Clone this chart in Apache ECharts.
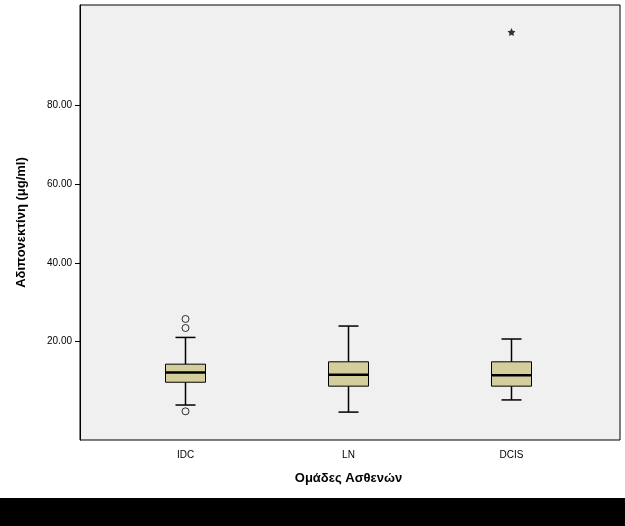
<!DOCTYPE html>
<html><head><meta charset="utf-8">
<script src="https://cdn.jsdelivr.net/npm/echarts@6/dist/echarts.min.js"></script>
<style>html,body{margin:0;padding:0;background:#fff}#c{width:625px;height:526px}</style>
</head><body><div id="c"></div>
<script>
const categories = ['IDC', 'LN', 'DCIS'];
// [whiskerLow, Q1, median, Q3, whiskerHigh]
const boxValues = [
  [3.8, 9.6, 12.1, 14.2, 21.0],
  [2.0, 8.6, 11.5, 14.8, 23.9],
  [5.1, 8.6, 11.4, 14.8, 20.6]
];
const outliers = [[0, 2.2], [0, 23.4], [0, 25.7]];
const extremes = [[2, 98.7]];
const yTicks = [0, 20, 40, 60, 80, 100];

const chart = echarts.init(document.getElementById('c'));
const yMin = -5.1, yMax = 105.6;
chart.setOption({
  animation: false,
  graphic: [{type:'rect', shape:{x:0,y:498,width:625,height:28}, style:{fill:'#000'}}],
  grid: [
    {left: 80, right: 5, top: 5, bottom: 86, show: true, backgroundColor: '#f0f0f0', borderColor: '#000', borderWidth: 1},
    {left: 104, width: 489, top: 5, bottom: 86}
  ],
  xAxis: [
    {gridIndex: 0, type: 'value', min: 0, max: 1, show: false},
    {gridIndex: 1, type: 'category', data: categories, axisLine:{show:false}, axisTick:{show:false},
     axisLabel:{color:'#000', fontSize:10, fontFamily:'Arial, Liberation Sans', margin:10},
     name:'Ομάδες Ασθενών', nameLocation:'middle', nameGap:32,
     nameTextStyle:{color:'#000', fontSize:13, fontWeight:'bold', fontFamily:'Arial, Liberation Sans', padding:[0,0,0,0]}}
  ],
  yAxis: [
    {gridIndex: 0, type: 'value', min: yMin, max: yMax, splitLine:{show:false},
     axisLine:{show:true, lineStyle:{color:'#000'}}, axisTick:{show:true, length:5, lineStyle:{color:'#000'}},
     axisLabel:{color:'#000', fontSize:10, fontFamily:'Arial, Liberation Sans', showMinLabel:false, showMaxLabel:false,
       customValues: yTicks, formatter: v => v === 0 ? '.00' : v.toFixed(2)},
     axisTick:{customValues: yTicks, length:5, lineStyle:{color:'#000'}},
     name:'Αδιπονεκτίνη (μg/ml)', nameLocation:'middle', nameGap:52,
     nameTextStyle:{color:'#000', fontSize:13, fontWeight:'bold', fontFamily:'Arial, Liberation Sans'}},
    {gridIndex: 1, type: 'value', min: yMin, max: yMax, show: false}
  ],
  series: [
    {type:'custom', xAxisIndex:1, yAxisIndex:1,
     data: boxValues.map((b,i)=>[i].concat(b)),
     renderItem: function(params, api){
       const x = api.value(0);
       const p = i => api.coord([x, api.value(i)]);
       const lo=p(1), q1=p(2), md=p(3), q3=p(4), hi=p(5);
       const cx = lo[0], hw = 20, cw = 10;
       const ls = {stroke:'#000', lineWidth:1.5};
       return {type:'group', children:[
         {type:'line', shape:{x1:cx,y1:lo[1],x2:cx,y2:q1[1]}, style:ls},
         {type:'line', shape:{x1:cx,y1:q3[1],x2:cx,y2:hi[1]}, style:ls},
         {type:'line', shape:{x1:cx-cw,y1:lo[1],x2:cx+cw,y2:lo[1]}, style:ls},
         {type:'line', shape:{x1:cx-cw,y1:hi[1],x2:cx+cw,y2:hi[1]}, style:ls},
         {type:'rect', shape:{x:cx-hw,y:q3[1],width:2*hw,height:q1[1]-q3[1]}, style:{fill:'#d3ce9b', stroke:'#000', lineWidth:1}},
         {type:'line', shape:{x1:cx-hw,y1:md[1],x2:cx+hw,y2:md[1]}, style:{stroke:'#000', lineWidth:2.5}}
       ]};
     }},
    {type:'scatter', xAxisIndex:1, yAxisIndex:1, data: outliers, symbol:'circle', symbolSize:7,
     itemStyle:{color:'transparent', borderColor:'#000', borderWidth:1}},
    {type:'scatter', xAxisIndex:1, yAxisIndex:1, data: extremes,
     symbol:'path://M0,-10 L2.9,-4 9.5,-3.1 4.7,1.5 5.9,8.1 0,5 -5.9,8.1 -4.7,1.5 -9.5,-3.1 -2.9,-4 Z',
     symbolSize:8, itemStyle:{color:'#000'}}
  ]
});
</script></body></html>
